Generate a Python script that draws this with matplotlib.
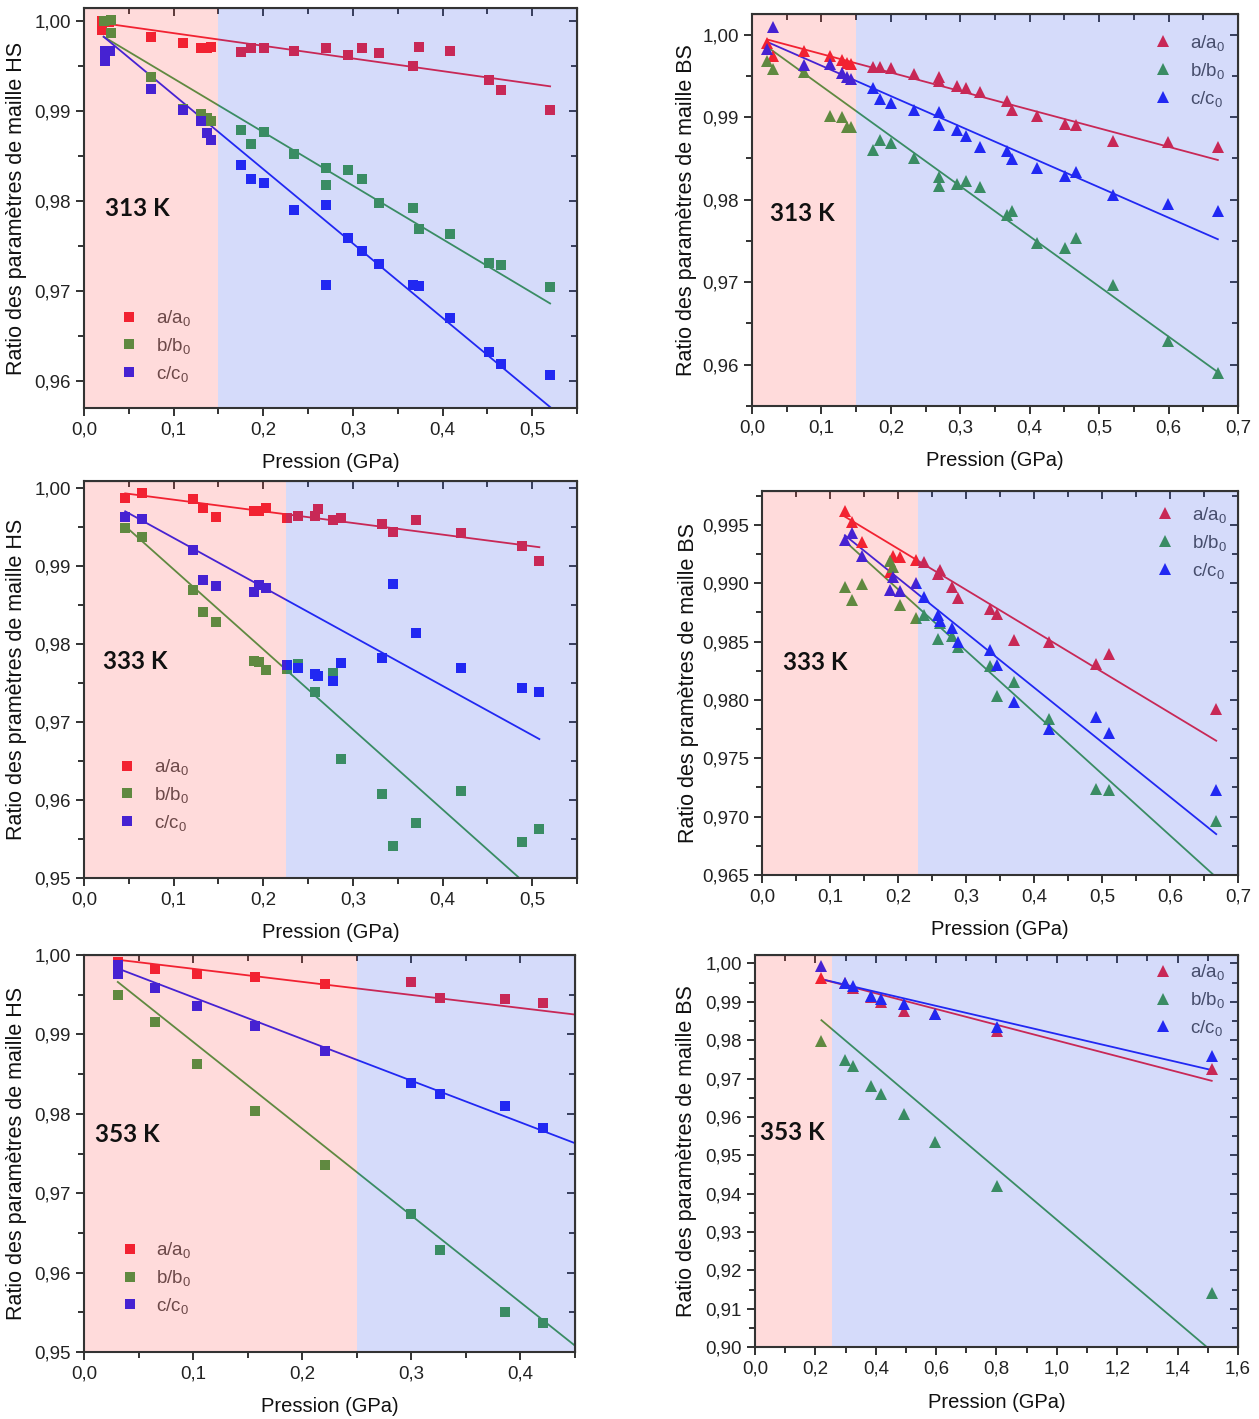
import numpy as np
import matplotlib.pyplot as plt
from matplotlib.ticker import MultipleLocator, FuncFormatter

# ---- data ----
# 313 K, HS (squares)
hs313_a_x = [0.020, 0.020, 0.028, 0.075, 0.111, 0.130, 0.137, 0.142, 0.175, 0.186, 0.201, 0.234,
             0.270, 0.295, 0.310, 0.329, 0.367, 0.374, 0.408, 0.452, 0.465, 0.520]
hs313_a = [1.0000, 0.9990, 0.9998, 0.9982, 0.9975, 0.9970, 0.9970, 0.9971, 0.9965, 0.9969, 0.9969, 0.9966,
           0.9970, 0.9962, 0.9969, 0.9964, 0.9950, 0.9971, 0.9966, 0.9934, 0.9923, 0.9901]
hs313_b_x = [0.022, 0.030, 0.030, 0.075, 0.111, 0.130, 0.137, 0.142, 0.175, 0.186, 0.201, 0.234,
             0.270, 0.270, 0.295, 0.310, 0.329, 0.367, 0.374, 0.408, 0.452, 0.465, 0.520]
hs313_b = [1.0000, 1.0001, 0.9986, 0.9937, 0.9902, 0.9896, 0.9892, 0.9889, 0.9878, 0.9863, 0.9876, 0.9852,
           0.9836, 0.9818, 0.9834, 0.9824, 0.9797, 0.9792, 0.9769, 0.9763, 0.9731, 0.9729, 0.9704]
hs313_c_x = [0.023, 0.029, 0.023, 0.075, 0.111, 0.130, 0.137, 0.142, 0.175, 0.186, 0.201, 0.234,
             0.270, 0.270, 0.295, 0.310, 0.329, 0.367, 0.374, 0.408, 0.452, 0.465, 0.520]
hs313_c = [0.9966, 0.9966, 0.9955, 0.9924, 0.9901, 0.9889, 0.9875, 0.9867, 0.9840, 0.9824, 0.9820, 0.9790,
           0.9795, 0.9706, 0.9759, 0.9744, 0.9730, 0.9706, 0.9705, 0.9670, 0.9632, 0.9619, 0.9607]
hs313_fit_x = [0.022, 0.520]
hs313_fit_a = [0.9997, 0.9927]
hs313_fit_b = [0.9982, 0.9686]
hs313_fit_c = [0.9982, 0.9571]

# 313 K, BS (triangles)
bs313_x = [0.022, 0.030, 0.075, 0.112, 0.130, 0.137, 0.143, 0.174, 0.185, 0.200, 0.233, 0.270,
           0.270, 0.295, 0.308, 0.329, 0.367, 0.374, 0.410, 0.451, 0.466, 0.520, 0.599, 0.671]
bs313_a = [0.9990, 0.9974, 0.9980, 0.9974, 0.9969, 0.9965, 0.9964, 0.9961, 0.9961, 0.9960, 0.9952, 0.9948,
           0.9944, 0.9938, 0.9935, 0.9930, 0.9920, 0.9909, 0.9901, 0.9892, 0.9891, 0.9871, 0.9870, 0.9864]
bs313_b = [0.9968, 0.9958, 0.9955, 0.9901, 0.9900, 0.9888, 0.9888, 0.9860, 0.9872, 0.9868, 0.9851, 0.9827,
           0.9817, 0.9819, 0.9822, 0.9815, 0.9781, 0.9786, 0.9747, 0.9741, 0.9754, 0.9697, 0.9629, 0.9590]
bs313_c = [0.9983, 1.0009, 0.9963, 0.9964, 0.9953, 0.9948, 0.9946, 0.9935, 0.9922, 0.9917, 0.9909, 0.9906,
           0.9890, 0.9884, 0.9877, 0.9864, 0.9859, 0.9849, 0.9838, 0.9829, 0.9834, 0.9805, 0.9795, 0.9786]
bs313_fit_x = [0.022, 0.671]
bs313_fit_a = [0.9994, 0.9848]
bs313_fit_b = [0.9985, 0.9591]
bs313_fit_c = [0.9991, 0.9752]

# 333 K, HS
hs333_x = [0.046, 0.065, 0.122, 0.133, 0.147, 0.190, 0.195, 0.203, 0.227, 0.239, 0.258, 0.261,
           0.278, 0.287, 0.333, 0.345, 0.370, 0.421, 0.489, 0.508]
hs333_a = [0.9987, 0.9994, 0.9986, 0.9974, 0.9963, 0.9971, 0.9970, 0.9974, 0.9962, 0.9964, 0.9964, 0.9973,
           0.9959, 0.9962, 0.9954, 0.9944, 0.9959, 0.9942, 0.9925, 0.9906]
hs333_b_x = [0.046, 0.065, 0.122, 0.133, 0.147, 0.190, 0.195, 0.203, 0.227, 0.239, 0.258,
             0.278, 0.287, 0.333, 0.345, 0.370, 0.421, 0.489, 0.508]
hs333_b = [0.9949, 0.9937, 0.9869, 0.9841, 0.9828, 0.9778, 0.9777, 0.9766, 0.9768, 0.9774, 0.9738,
           0.9763, 0.9653, 0.9607, 0.9541, 0.9571, 0.9612, 0.9546, 0.9563]
hs333_c = [0.9963, 0.9960, 0.9920, 0.9882, 0.9874, 0.9866, 0.9875, 0.9872, 0.9773, 0.9769, 0.9762, 0.9759,
           0.9752, 0.9775, 0.9782, 0.9877, 0.9814, 0.9769, 0.9744, 0.9738]
hs333_fit_x = [0.046, 0.508]
hs333_fit_a = [0.9993, 0.9924]
hs333_fit_b = [0.9951, 0.9477]
hs333_fit_c = [0.9970, 0.9678]

# 333 K, BS
bs333_x = [0.122, 0.133, 0.147, 0.189, 0.193, 0.203, 0.227, 0.239, 0.259, 0.262, 0.279, 0.288,
           0.335, 0.346, 0.371, 0.422, 0.491, 0.510, 0.668]
bs333_a = [0.9962, 0.9952, 0.9935, 0.9910, 0.9923, 0.9922, 0.9920, 0.9918, 0.9908, 0.9911, 0.9897, 0.9887,
           0.9878, 0.9874, 0.9851, 0.9850, 0.9831, 0.9839, 0.9792]
bs333_b = [0.9897, 0.9886, 0.9899, 0.9919, 0.9914, 0.9881, 0.9870, 0.9873, 0.9852, 0.9866, 0.9855, 0.9845,
           0.9829, 0.9803, 0.9815, 0.9784, 0.9724, 0.9723, 0.9696]
bs333_c = [0.9937, 0.9943, 0.9923, 0.9894, 0.9905, 0.9893, 0.9900, 0.9888, 0.9873, 0.9868, 0.9862, 0.9850,
           0.9843, 0.9830, 0.9798, 0.9775, 0.9785, 0.9772, 0.9723]
bs333_fit_x = [0.122, 0.668]
bs333_fit_a = [0.9957, 0.9765]
bs333_fit_b = [0.9936, 0.9648]
bs333_fit_c = [0.9941, 0.9685]

# 353 K, HS
hs353_x = [0.031, 0.065, 0.104, 0.157, 0.221, 0.300, 0.326, 0.386, 0.421]
hs353_a = [0.9991, 0.9982, 0.9976, 0.9972, 0.9963, 0.9966, 0.9946, 0.9945, 0.9939]
hs353_b = [0.9950, 0.9915, 0.9863, 0.9804, 0.9735, 0.9674, 0.9628, 0.9550, 0.9536]
hs353_c_x = [0.031, 0.031, 0.065, 0.104, 0.157, 0.221, 0.300, 0.326, 0.386, 0.421]
hs353_c = [0.9987, 0.9976, 0.9959, 0.9936, 0.9911, 0.9879, 0.9839, 0.9825, 0.9810, 0.9782]
hs353_fit_x = [0.031, 0.450]
hs353_fit_a = [0.9994, 0.9925]
hs353_fit_b = [0.9966, 0.9508]
hs353_fit_c = [0.9983, 0.9763]

# 353 K, BS
bs353_x = [0.220, 0.298, 0.325, 0.384, 0.419, 0.494, 0.595, 0.801, 1.513]
bs353_a = [0.9961, 0.9948, 0.9935, 0.9913, 0.9900, 0.9877, 0.9868, 0.9824, 0.9724]
bs353_b = [0.9799, 0.9747, 0.9733, 0.9681, 0.9659, 0.9607, 0.9534, 0.9421, 0.9141]
bs353_c = [0.9993, 0.9950, 0.9942, 0.9916, 0.9907, 0.9893, 0.9867, 0.9833, 0.9759]
bs353_fit_x = [0.220, 1.513]
bs353_fit_b_x = [0.220, 1.497]
bs353_fit_a = [0.9959, 0.9694]
bs353_fit_b = [0.9852, 0.9000]
bs353_fit_c = [0.9959, 0.9722]

labels = ["a/a$_0$", "b/b$_0$", "c/c$_0$"]
col_a = "#F0283A"
col_b = "#46A04B"
col_c = "#2828F5"

plt.rcParams["font.family"] = ["Liberation Sans", "DejaVu Sans"]
plt.rcParams["mathtext.fontset"] = "custom"
plt.rcParams["mathtext.rm"] = "Liberation Sans"
plt.rcParams["mathtext.it"] = "Liberation Sans"

fig = plt.figure(figsize=(12.59, 14.19), dpi=100)


def comma(nd):
    return FuncFormatter(lambda v, p: f"{v:.{nd}f}".replace(".", ","))


def panel(rect, series, fits, xlim, ylim, split, xmaj, ymaj, ynd, marker, ylabel,
          temp, temp_pos, leg_pos, ylab_x):
    ax = fig.add_axes(rect)
    ms = 7 if marker == "s" else 8.5
    cols = [col_a, col_b, col_c]
    for (xs, ys), lab, c in zip(series, labels, cols):
        ax.plot(xs, ys, ls="none", marker=marker, ms=ms, mfc=c, mec=c, mew=0, label=lab, zorder=3)
    for (fx, fy), c in zip(fits, cols):
        ax.plot(fx, fy, color=c, lw=1.3, zorder=2)
    ax.set_xlim(xlim)
    ax.set_ylim(ylim)
    # shaded regions drawn over the data, as in the original
    ax.axvspan(xlim[0], split, color=(1.0, 0.0, 0.0), alpha=0.14, lw=0, zorder=4)
    ax.axvspan(split, xlim[1], color=(0.0, 0.16, 0.9), alpha=0.165, lw=0, zorder=4)

    ax.xaxis.set_major_locator(MultipleLocator(xmaj))
    ax.xaxis.set_minor_locator(MultipleLocator(xmaj / 2))
    ax.yaxis.set_major_locator(MultipleLocator(ymaj))
    ax.yaxis.set_minor_locator(MultipleLocator(ymaj / 2))
    ax.xaxis.set_major_formatter(comma(1))
    ax.yaxis.set_major_formatter(comma(ynd))
    ax.tick_params(which="both", direction="out", width=1.3, labelsize=13.5, colors="#222222",
                   top=False, right=False)
    ax.tick_params(which="major", length=6)
    ax.tick_params(which="minor", length=4)
    for s in ax.spines.values():
        s.set_linewidth(1.5)
        s.set_color("#333333")
        s.set_zorder(6)

    sx = ax.secondary_xaxis("top")
    sx.xaxis.set_major_locator(MultipleLocator(xmaj))
    sx.xaxis.set_minor_locator(MultipleLocator(xmaj / 2))
    sx.tick_params(which="both", direction="in", labeltop=False, width=1.3, colors="#333333")
    sx.tick_params(which="major", length=6)
    sx.tick_params(which="minor", length=4)
    sy = ax.secondary_yaxis("right")
    sy.yaxis.set_major_locator(MultipleLocator(ymaj))
    sy.yaxis.set_minor_locator(MultipleLocator(ymaj / 2))
    sy.tick_params(which="both", direction="in", labelright=False, width=1.3, colors="#333333")
    sy.tick_params(which="major", length=6)
    sy.tick_params(which="minor", length=4)

    ax.set_xlabel("Pression (GPa)", fontsize=14.5, color="#111111", labelpad=11)
    ax.set_ylabel(ylabel, fontsize=15.5, color="#111111")
    ax.yaxis.set_label_coords(ylab_x, 0.5)

    leg = ax.legend(loc="center left", bbox_to_anchor=leg_pos, frameon=False, fontsize=13.5,
                    handlelength=1.0, handletextpad=0.9, labelspacing=0.42, borderpad=0,
                    borderaxespad=0, labelcolor="#555555")
    leg.set_zorder(3.5)
    ax.text(temp_pos[0], temp_pos[1], temp, transform=ax.transAxes, fontsize=17.5,
            fontweight="bold", family="Lato", va="center", ha="left", color="#111111", zorder=7)
    return ax


hs_lab = "Ratio des paramètres de maille HS"
bs_lab = "Ratio des paramètres de maille BS"
hs_lab2 = "Ratio des pramètres de maille HS"
bs_lab2 = "Ratio des pramètres de maille BS"

panel([0.0667, 0.7125, 0.3916, 0.2819],
      [(hs313_a_x, hs313_a), (hs313_b_x, hs313_b), (hs313_c_x, hs313_c)],
      [(hs313_fit_x, hs313_fit_a), (hs313_fit_x, hs313_fit_b), (hs313_fit_x, hs313_fit_c)],
      (0, 0.55), (0.957, 1.0014), 0.15, 0.1, 0.01, 2, "s", hs_lab,
      "313 K", (0.043, 0.4975), (0.073, 0.155), -0.116)

panel([0.5973, 0.7139, 0.386, 0.2763],
      [(bs313_x, bs313_a), (bs313_x, bs313_b), (bs313_x, bs313_c)],
      [(bs313_fit_x, bs313_fit_a), (bs313_fit_x, bs313_fit_b), (bs313_fit_x, bs313_fit_c)],
      (0, 0.7), (0.955, 1.0025), 0.15, 0.1, 0.01, 2, "^", bs_lab,
      "313 K", (0.037, 0.492), (0.827, 0.855), -0.113)

panel([0.0667, 0.3813, 0.3916, 0.2798],
      [(hs333_x, hs333_a), (hs333_b_x, hs333_b), (hs333_x, hs333_c)],
      [(hs333_fit_x, hs333_fit_a), (hs333_fit_x, hs333_fit_b), (hs333_fit_x, hs333_fit_c)],
      (0, 0.55), (0.95, 1.0009), 0.225, 0.1, 0.01, 2, "s", hs_lab2,
      "333 K", (0.039, 0.544), (0.069, 0.209), -0.116)

panel([0.6052, 0.3834, 0.3781, 0.2706],
      [(bs333_x, bs333_a), (bs333_x, bs333_b), (bs333_x, bs333_c)],
      [(bs333_fit_x, bs333_fit_a), (bs333_fit_x, bs333_fit_b), (bs333_fit_x, bs333_fit_c)],
      (0, 0.7), (0.965, 0.9979), 0.23, 0.1, 0.005, 3, "^", bs_lab2,
      "333 K", (0.044, 0.552), (0.828, 0.865), -0.132)

panel([0.0667, 0.0472, 0.39, 0.2798],
      [(hs353_x, hs353_a), (hs353_x, hs353_b), (hs353_c_x, hs353_c)],
      [(hs353_fit_x, hs353_fit_a), (hs353_fit_x, hs353_fit_b), (hs353_fit_x, hs353_fit_c)],
      (0, 0.45), (0.95, 1.0), 0.25, 0.1, 0.01, 2, "s", hs_lab,
      "353 K", (0.022, 0.547), (0.075, 0.186), -0.116)

panel([0.5997, 0.0507, 0.3836, 0.2763],
      [(bs353_x, bs353_a), (bs353_x, bs353_b), (bs353_x, bs353_c)],
      [(bs353_fit_x, bs353_fit_a), (bs353_fit_b_x, bs353_fit_b), (bs353_fit_x, bs353_fit_c)],
      (0, 1.6), (0.90, 1.0022), 0.255, 0.2, 0.01, 2, "^", bs_lab,
      "353 K", (0.010, 0.548), (0.826, 0.885), -0.120)

fig.savefig("out.png", dpi=100)
